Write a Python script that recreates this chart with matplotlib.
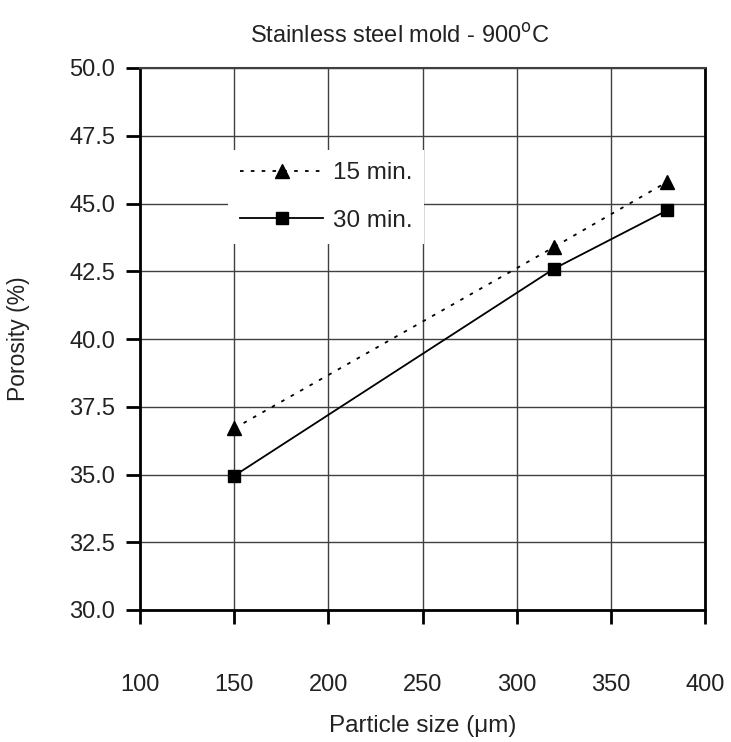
import matplotlib
matplotlib.use("Agg")
import matplotlib.pyplot as plt

plt.rcParams['font.family'] = ['Liberation Sans', 'DejaVu Sans']

particle_size = [150, 320, 380]
porosity_15 = [36.7, 43.4, 45.8]
porosity_30 = [34.95, 42.6, 44.75]
labels = ["15 min.", "30 min."]
xticks = [100, 150, 200, 250, 300, 350, 400]
yticks = [30.0, 32.5, 35.0, 37.5, 40.0, 42.5, 45.0, 47.5, 50.0]

fig = plt.figure(figsize=(7.31, 7.42), dpi=100)
ax = fig.add_axes([140/731, 1-610/742, (705-140)/731, (610-68)/742])

ax.plot(particle_size, porosity_15, linestyle=(0, (2, 4)), color='black', lw=1.3,
        marker='^', markersize=10, label=labels[0], zorder=3)
ax.plot(particle_size, porosity_30, linestyle='-', color='black', lw=1.3,
        marker='s', markersize=9, label=labels[1], zorder=3)

ax.set_xlim(100, 400)
ax.set_ylim(30, 50)
ax.set_xticks(xticks)
ax.set_yticks(yticks)
ax.set_yticklabels([f"{v:.1f}" for v in yticks])
ax.grid(True, color='#404040', lw=1.0)
ax.set_axisbelow(True)

for s in ['left', 'bottom', 'right']:
    ax.spines[s].set_linewidth(2.0)
    ax.spines[s].set_color('black')
ax.spines['top'].set_linewidth(1.5)
ax.spines['top'].set_color('#404040')

ax.tick_params(axis='both', direction='out', length=10, width=2, labelsize=17,
               color='black', labelcolor='#222222')
ax.tick_params(axis='x', pad=36)
ax.tick_params(axis='y', pad=8)

ax.set_title("Stainless steel mold - 900$^{\\mathrm{o}}$C", fontsize=17, pad=18,
             color='#222222', x=(400 - 140) / 565)
ax.set_xlabel("Particle size (μm)", fontsize=17.5, labelpad=14, color='#222222')
ax.set_ylabel("Porosity (%)", fontsize=16.5, labelpad=28, color='#222222')

leg = ax.legend(loc='upper left', bbox_to_anchor=(0.156, 0.849), frameon=True,
                fontsize=17.5, handlelength=3.4, borderpad=0.5, labelspacing=1.05,
                handletextpad=0.4, borderaxespad=0)
leg.get_frame().set_edgecolor('none')
leg.get_frame().set_facecolor('white')
leg.get_frame().set_alpha(1)
leg.get_frame().set_boxstyle('square', pad=0)
for t in leg.get_texts():
    t.set_color('#222222')

fig.savefig("out.png", dpi=100)
